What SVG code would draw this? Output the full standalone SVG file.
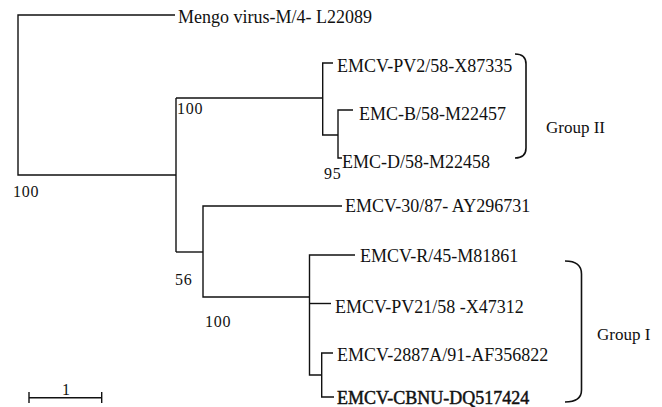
<svg xmlns="http://www.w3.org/2000/svg" width="662" height="407" viewBox="0 0 662 407">
<style>
.t{font-family:"Liberation Serif","Times New Roman",serif;font-size:18px;fill:#111}
.n{font-family:"Liberation Serif","Times New Roman",serif;font-size:16px;letter-spacing:0.8px;fill:#111}
.g{font-family:"Liberation Serif","Times New Roman",serif;font-size:17px;fill:#111}
.l{fill:none;stroke:#111;stroke-width:1.4}
.br{fill:none;stroke:#111;stroke-width:1.6}
</style>
<rect width="662" height="407" fill="#fff"/>
<g id="connectors">
<path class="l" d="M175,15 H18 V175 H176"/>
<path class="l" d="M176,98 V252"/>
<path class="l" d="M176,98 H322.7"/>
<path class="l" d="M333,63 H322.7 V135 H338"/>
<path class="l" d="M353,110 H338 V158 H342"/>
<path class="l" d="M176,252 H203"/>
<path class="l" d="M342,206 H203 V297 H309.5"/>
<path class="l" d="M355,255 H309.5 V375 H321.7"/>
<path class="l" d="M309.5,303.5 H331"/>
<path class="l" d="M333,353 H321.7 V397 H334"/>
</g>
<g id="n_mengo"><text class="t" x="178" y="22.5">Mengo virus-M/4- L22089</text></g>
<g id="n_pv2"><text class="t" x="337" y="71.5">EMCV-PV2/58-X87335</text></g>
<g id="n_b"><text class="t" x="359" y="119.5">EMC-B/58-M22457</text></g>
<g id="n_d"><text class="t" x="342" y="167.5">EMC-D/58-M22458</text></g>
<g id="n_3087"><text class="t" x="345" y="211.5">EMCV-30/87- AY296731</text></g>
<g id="n_r"><text class="t" x="360" y="262">EMCV-R/45-M81861</text></g>
<g id="n_pv21"><text class="t" x="335" y="313">EMCV-PV21/58 -X47312</text></g>
<g id="n_2887a"><text class="t" x="337" y="361">EMCV-2887A/91-AF356822</text></g>
<g id="n_cbnu"><text class="t" x="337" y="403.5" stroke="#111" stroke-width="0.45">EMCV-CBNU-DQ517424</text></g>
<g id="bootstrap">
<text class="n" x="13" y="196.5">100</text>
<text class="n" x="177" y="114">100</text>
<text class="n" x="324" y="179">95</text>
<text class="n" x="175" y="285">56</text>
<text class="n" x="205" y="327">100</text>
</g>
<g id="group2">
<path class="br" d="M515,54 Q526,54 526,64 V148 Q526,158 515,158"/>
<text class="g" x="546" y="133">Group II</text>
</g>
<g id="group1">
<path class="br" d="M565,261 Q581.5,261 581.5,274 V390 Q581.5,402 565,402"/>
<text class="g" x="597" y="340">Group I</text>
</g>
<g id="scalebar">
<path class="l" d="M29,397.7 H101.7 M29,392 V403 M101.7,392 V403"/>
<text class="n" x="66.5" y="394.5" text-anchor="middle">1</text>
</g>
</svg>
